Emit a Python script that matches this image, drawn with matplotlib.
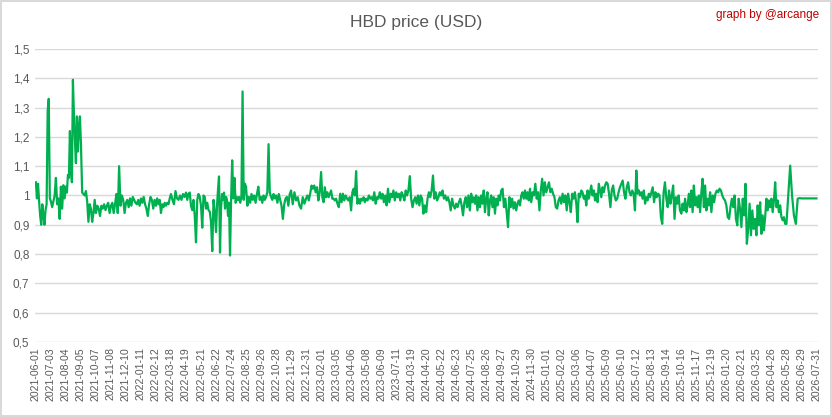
import matplotlib
matplotlib.use("Agg")
import matplotlib.pyplot as plt
from matplotlib.ticker import FuncFormatter
import numpy as np

# tick labels (category axis, one label every 32 days)
tick_labels = [
    "2021-06-01", "2021-07-03", "2021-08-04", "2021-09-05", "2021-10-07", "2021-11-08", "2021-12-10",
    "2022-01-11", "2022-02-12", "2022-03-18", "2022-04-19", "2022-05-21", "2022-06-22", "2022-07-24",
    "2022-08-25", "2022-09-26", "2022-10-28", "2022-11-29", "2022-12-31",
    "2023-02-01", "2023-03-05", "2023-04-06", "2023-05-08", "2023-06-09", "2023-07-11",
    "2024-03-19", "2024-04-20", "2024-05-22", "2024-06-23", "2024-07-25", "2024-08-26", "2024-09-27",
    "2024-10-29", "2024-11-30",
    "2025-01-01", "2025-02-02", "2025-03-06", "2025-04-07", "2025-05-09", "2025-06-10", "2025-07-12",
    "2025-08-13", "2025-09-14", "2025-10-16", "2025-11-17", "2025-12-19",
    "2026-01-20", "2026-02-21", "2026-03-25", "2026-04-26", "2026-05-28", "2026-06-29", "2026-07-31",
]

# price readings, one inner list per 32-day period
prices_2021 = [
    [1.045, 0.99, 1.04, 0.98, 0.93, 0.90, 0.97, 0.93, 0.90, 0.95, 0.97, 1.29, 1.33, 0.99],
    [0.98, 0.96, 0.98, 1.0, 1.06, 0.97, 0.99, 0.92, 1.03, 0.955, 1.035, 0.99],
    [1.03, 1.01, 1.07, 1.06, 1.22, 1.09, 1.045, 1.395, 1.28, 1.19, 1.11, 1.27, 1.15, 1.23, 1.27],
    [1.18, 1.01, 1.005, 1.0, 1.015, 0.98, 0.91, 0.97, 0.955, 0.91, 0.94, 0.985],
    [0.94, 0.965, 0.955, 0.93, 0.965, 0.955, 0.97, 0.95, 0.965, 0.975, 0.94],
    [0.965, 0.975, 0.94, 0.97, 1.005, 0.94, 1.10, 0.965, 1.0, 0.985, 0.94],
    [0.975, 0.985, 0.96, 0.99, 0.965, 0.995, 0.985, 0.975, 0.97, 0.985, 0.965],
]
prices_2022 = [
    [0.99, 0.975, 0.995, 0.97, 0.955, 0.93, 0.97, 0.995, 0.985, 0.955, 0.985],
    [0.965, 0.99, 0.97, 0.985, 0.94, 0.97, 0.96, 0.975, 0.965, 0.975, 0.97, 0.99],
    [1.005, 0.985, 0.97, 1.015, 0.99, 0.985, 1.0, 0.985, 1.005, 0.995],
    [1.01, 0.985, 1.005, 1.01, 0.965, 0.95, 0.985, 0.93, 0.84, 0.985, 1.005, 0.995],
    [0.965, 0.89, 1.0, 0.995, 0.955, 0.975, 0.95, 0.945, 0.91, 0.81, 0.985, 0.945],
    [0.875, 0.965, 1.02, 1.065, 0.805, 0.955, 1.005, 0.985, 1.01, 0.955, 0.995, 0.985, 0.93, 0.975, 0.795],
    [0.975, 1.12, 0.99, 1.06, 0.975, 0.995, 0.985, 0.995, 0.975, 0.995, 1.355, 0.985, 1.04],
    [1.03, 0.965, 0.995, 0.975, 1.005, 0.985, 1.0, 0.975, 1.005, 1.03, 0.985],
    [0.995, 0.975, 1.0, 0.985, 0.995, 1.01, 1.175, 1.01, 0.995, 0.985, 1.005, 0.99],
    [1.0, 0.975, 1.005, 0.985, 0.965, 0.92, 0.97, 0.99, 0.995, 0.965, 1.005],
    [1.017, 0.97, 1.011, 0.983, 0.994, 0.966, 0.955, 0.994, 0.972],
    [0.99, 1.0, 0.983, 1.006, 1.034, 1.023, 1.034, 1.011, 1.028, 0.983, 1.011],
]
prices_2023 = [
    [1.08, 0.994, 0.977, 1.028, 0.994, 1.011, 0.994, 1.006, 1.017, 0.989, 0.989, 0.983],
    [0.989, 0.972, 0.96, 1.006, 0.977, 1.006, 0.983, 1.0, 0.989, 0.983, 0.994],
    [0.949, 1.011, 1.023, 1.0, 1.083, 0.972, 0.989, 0.972, 0.989, 0.983, 0.994, 0.977],
    [0.989, 0.983, 1.0, 0.989, 0.994, 0.983, 1.011, 0.972, 0.994, 0.989, 1.011],
    [0.989, 1.006, 0.977, 1.0, 0.966, 1.023, 0.977, 1.006, 0.994, 1.017, 0.983],
    [1.011, 0.994, 1.006, 0.983, 1.011, 1.0, 0.983, 1.017, 1.0, 1.017, 1.066],
]
prices_2024 = [
    [0.989, 0.96, 0.983, 0.994, 0.972, 1.0, 0.966, 1.0, 0.989, 0.938, 0.966],
    [0.943, 0.989, 1.011, 0.994, 1.017, 1.068, 0.989, 1.011, 0.983, 0.994, 1.011],
    [1.0, 1.017, 0.989, 1.0, 0.983, 0.994, 0.977, 0.949, 0.989, 0.966, 0.955],
    [0.972, 0.96, 0.977, 0.989, 0.966, 0.932, 0.977, 0.994, 0.96, 1.0, 0.949],
    [1.006, 0.977, 0.994, 0.972, 1.0, 0.949, 0.994, 0.96, 1.0, 0.972, 1.017, 0.943],
    [0.989, 1.011, 0.932, 0.983, 1.0, 0.96, 0.994, 0.938, 0.989, 0.966, 1.0, 0.983],
    [1.017, 1.023, 0.96, 0.989, 0.943, 0.892, 0.994, 0.96, 0.989, 0.955, 0.977],
    [0.949, 0.972, 0.983, 0.966, 1.0, 1.011, 0.989, 1.017, 0.989, 1.011, 0.983, 1.023],
    [0.977, 1.011, 1.0, 1.04, 0.989, 1.011, 0.949, 1.017, 1.057, 1.0, 1.045],
]
prices_2025 = [
    [1.011, 1.028, 1.045, 1.011, 1.023, 1.006, 0.994, 0.96, 0.955, 0.983, 0.994],
    [0.972, 1.006, 0.977, 1.0, 0.949, 1.006, 0.977, 0.943, 1.006, 0.989, 1.011],
    [0.972, 0.909, 1.006, 0.994, 1.017, 1.011, 0.989, 1.0, 0.966, 1.017, 0.989, 1.011],
    [1.034, 1.0, 1.017, 0.983, 1.006, 0.977, 1.04, 1.017, 0.994, 1.028, 1.011, 1.034],
    [1.045, 1.04, 1.006, 0.96, 1.017, 1.034, 1.0, 0.983, 0.989, 1.011, 1.028],
    [1.04, 1.051, 1.011, 0.989, 1.028, 1.045, 1.011, 1.0, 1.017, 1.006, 0.949],
    [1.085, 1.006, 1.017, 1.0, 1.011, 0.989, 1.017, 0.972, 0.994, 0.983, 1.006, 0.994],
    [1.011, 1.028, 0.977, 1.011, 0.994, 1.006, 1.0, 0.926, 0.903, 1.011, 1.045],
    [0.989, 0.96, 1.017, 0.972, 1.0, 1.034, 0.92, 0.994, 0.972, 1.0, 0.949],
    [0.938, 0.972, 0.949, 0.989, 0.943, 0.966, 1.006, 0.96, 1.017, 0.943, 1.034, 0.966],
    [0.994, 0.96, 1.0, 0.943, 1.011, 1.057, 0.96, 1.034, 0.949, 0.989, 0.966, 1.011],
    [0.943, 1.0, 0.977, 1.006, 1.017, 1.011, 1.023, 1.017, 1.0, 0.989, 0.983],
]
prices_2026 = [
    [0.966, 0.926, 0.92, 0.96, 0.989, 0.96, 1.0, 0.92, 0.898, 0.989, 0.955],
    [0.892, 0.989, 0.932, 1.04, 0.835, 0.886, 0.972, 0.864, 0.949, 0.886, 0.92],
    [0.864, 0.966, 0.898, 0.977, 0.869, 0.932, 0.881, 0.926, 0.989, 0.949, 0.983, 0.96],
    [0.989, 0.943, 0.983, 1.045, 0.96, 0.983, 0.943, 0.966, 0.926, 0.915, 0.926, 0.903],
    [0.903, 1.0, 1.102, 1.0, 0.932, 0.903, 0.989, 0.991],
    [0.99, 0.99],
]
last_price = 0.99

DAYS_PER_TICK = 32

periods = prices_2021 + prices_2022 + prices_2023 + prices_2024 + prices_2025 + prices_2026
xs, ys = [], []
for k, vals in enumerate(periods):
    n = len(vals)
    xs.extend(k * DAYS_PER_TICK + np.arange(n) * DAYS_PER_TICK / n)
    ys.extend(vals)
xs.append(len(periods) * DAYS_PER_TICK)
ys.append(last_price)

grey = "#595959"

fig = plt.figure(figsize=(8.32, 4.17), dpi=100)
fig.patch.set_edgecolor("#D9D9D9")
fig.patch.set_linewidth(1.5)
ax = fig.add_axes([0.042, 0.18, 0.941, 0.7025])

ax.plot(xs, ys, color="#00B050", linewidth=1.6, solid_joinstyle="round")

ax.set_ylim(0.5, 1.5)
ax.set_yticks(np.arange(0.5, 1.51, 0.1))
ax.yaxis.set_major_formatter(FuncFormatter(lambda v, p: f"{v:.1f}".rstrip("0").rstrip(".").replace(".", ",")))
ax.set_xlim(-2, len(periods) * DAYS_PER_TICK + 3)
ax.set_xticks(np.arange(len(tick_labels)) * DAYS_PER_TICK)
ax.set_xticklabels(tick_labels, rotation=90, fontsize=7.6, color=grey, family="Liberation Sans")

ax.grid(axis="y", color="#D9D9D9", linewidth=1)
ax.set_axisbelow(True)
for s in ax.spines.values():
    s.set_visible(False)
ax.tick_params(length=0, pad=4)
ax.tick_params(axis="y", labelsize=8.5, labelcolor=grey)
for lbl in ax.get_yticklabels():
    lbl.set_family("Liberation Sans")

fig.text(0.5, 0.947, "HBD price (USD)", ha="center", va="center", fontsize=12.5, color=grey,
         family="Liberation Sans")
fig.text(0.985, 0.963, "graph by @arcange", ha="right", va="center", fontsize=8.5, color="#C00000",
         family="Liberation Sans")

fig.savefig("out.png", dpi=100, edgecolor=fig.get_edgecolor())
